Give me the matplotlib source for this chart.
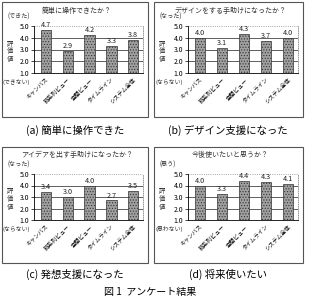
import matplotlib
matplotlib.use("Agg")
import matplotlib.pyplot as plt
from matplotlib.patches import Rectangle

plt.rcParams['font.family'] = ['Noto Sans CJK JP', 'DejaVu Sans']
plt.rcParams['hatch.linewidth'] = 0.5

categories = ["キャンバス", "時系列ビュー", "空間ビュー", "タイムライン", "システム全体"]
values_a = [4.7, 2.9, 4.2, 3.3, 3.8]
values_b = [4.0, 3.1, 4.3, 3.7, 4.0]
values_c = [3.4, 3.0, 4.0, 2.7, 3.5]
values_d = [4.0, 3.3, 4.4, 4.3, 4.1]
titles = ["簡単に操作できたか？", "デザインをする手助けになったか？",
          "アイデアを出す手助けになったか？", "今後使いたいと思うか？"]
top_labels = ["(できた)", "(なった)", "(なった)", "(思う)"]
bottom_labels = ["(できない)", "(ならない)", "(ならない)", "(思わない)"]
captions = ["(a) 簡単に操作できた", "(b) デザイン支援になった",
            "(c) 発想支援になった", "(d) 将来使いたい"]
fig_caption = "図 1  アンケート結果"
yticks = [1.0, 2.0, 3.0, 4.0, 5.0]

W, H = 309, 298
fig = plt.figure(figsize=(W / 100, H / 100), dpi=100)

def fx(x): return x / W
def fy(y): return 1 - y / H

# panel boxes (px): x0, y0, x1, y1
boxes = [(2, 2, 148, 117), (154, 2, 303, 117), (2, 147, 148, 263), (154, 147, 303, 263)]
# plot area (px): x0, ytop(5.0), x1, ybottom(1.0)
areas = [(34, 26, 143, 73), (188, 26, 298, 73), (34, 174, 143, 220), (188, 174, 298, 220)]
cap_pos = [(75, 130), (228, 130), (75, 274), (228, 274)]
all_values = [values_a, values_b, values_c, values_d]

for i in range(4):
    bx0, by0, bx1, by1 = boxes[i]
    fig.patches.append(Rectangle((fx(bx0), fy(by1)), fx(bx1 - bx0), (by1 - by0) / H,
                                 transform=fig.transFigure, fill=False,
                                 edgecolor='#555555', linewidth=0.8))
    ax0, ayt, ax1, ayb = areas[i]
    ax = fig.add_axes([fx(ax0), fy(ayb), fx(ax1 - ax0), (ayb - ayt) / H])
    vals = all_values[i]
    xs = range(len(categories))
    ax.bar(xs, [v - 1.0 for v in vals], bottom=1.0, width=0.47,
           color='#a0a0a0', edgecolor='#333333', linewidth=0.5,
           hatch='......', zorder=3)
    for x, v in zip(xs, vals):
        ax.text(x, v + 0.08, f"{v:.1f}", ha='center', va='bottom', fontsize=5.2,
                color='#222222', zorder=4)
    ax.set_ylim(1.0, 5.0)
    ax.set_xlim(-0.55, 4.45)
    ax.set_yticks(yticks)
    ax.set_yticklabels([f"{t:.1f}" for t in yticks], fontsize=5)
    for t in [2.0, 3.0, 4.0]:
        ax.axhline(t, color='#444444', linewidth=0.6, zorder=1)
    ax.axhline(5.0, color='#888888', linewidth=0.6, linestyle=':', zorder=1)
    ax.spines['top'].set_visible(False)
    ax.spines['right'].set_linestyle(':')
    ax.spines['right'].set_color('#888888')
    ax.spines['right'].set_linewidth(0.6)
    ax.spines['left'].set_linewidth(0.6)
    ax.spines['bottom'].set_linewidth(0.6)
    ax.set_xticks(list(xs))
    ax.set_xticklabels(categories, rotation=45, ha='right', rotation_mode='anchor',
                       fontsize=4.1)
    ax.tick_params(axis='x', length=0, pad=3)
    ax.tick_params(axis='y', length=2, width=0.5, pad=1.5)
    # titles and side labels
    fig.text(fx((bx0 + bx1) / 2 + 2), fy(by0 + 9 if i < 2 else by0 + 8), titles[i],
             ha='center', va='center', fontsize=5, color='#333333')
    fig.text(fx(bx0 + 6), fy(ayt - 9), top_labels[i], ha='left', va='center',
             fontsize=4.4, color='#333333')
    fig.text(fx(bx0 + 1), fy(ayb + 9), bottom_labels[i], ha='left', va='center',
             fontsize=4.2, color='#333333')
    fig.text(fx(bx0 + 8), fy((ayt + ayb) / 2 + 2), "評\n価\n値", ha='center', va='center',
             fontsize=4.6, color='#333333', linespacing=0.95)
    cx, cy = cap_pos[i]
    fig.text(fx(cx), fy(cy), captions[i], ha='center', va='center', fontsize=7.5,
             color='black')

fig.text(fx(150), fy(292), fig_caption, ha='center', va='center', fontsize=7.2,
         color='black')

fig.savefig("out.png", dpi=100)
